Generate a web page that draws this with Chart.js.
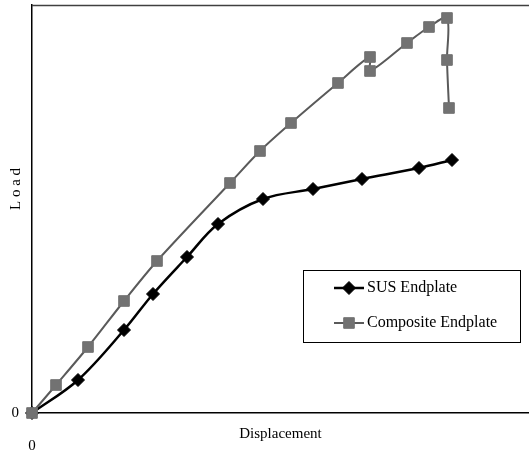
<!DOCTYPE html>
<html>
<head>
<meta charset="utf-8">
<script src="https://cdn.jsdelivr.net/npm/chart.js@4/dist/chart.umd.min.js"></script>
<style>
  html, body { margin: 0; padding: 0; background: #fff; }
  #wrap { width: 529px; height: 458px; position: relative; }
</style>
</head>
<body>
<div id="wrap"><canvas id="c"></canvas></div>
<script>
// ---- data (arbitrary units) ----
const susX = [0, 4.6, 9.2, 12.1, 15.5, 18.6, 23.1, 28.1, 33.0, 38.7, 42.0];
const susY = [0, 3.3, 8.3, 11.9, 15.6, 18.9, 21.4, 22.4, 23.4, 24.5, 25.3];
const compX = [0, 2.4, 5.6, 9.2, 12.5, 19.8, 22.8, 25.9, 30.6, 33.8, 33.8, 37.5, 39.7, 41.5, 41.5, 41.7];
const compY = [0, 2.8, 6.6, 11.2, 15.2, 23.0, 26.2, 29.0, 33.0, 35.6, 34.2, 37.0, 38.6, 39.5, 35.3, 30.5];
const seriesNames = ['SUS Endplate', 'Composite Endplate'];
const xTickLabels = ['0'];
const yTickLabels = ['0'];
const xTitle = 'Displacement';
const yTitle = 'L o a d';

const toPoints = (xs, ys) => xs.map((x, i) => ({ x: x, y: ys[i] }));

const FONT = "'Liberation Serif', 'Times New Roman', serif";

const frameAndLegend = {
  id: 'frameAndLegend',
  beforeDatasetsDraw(chart) {
    const { ctx, chartArea } = chart;
    ctx.save();
    ctx.strokeStyle = '#404040';
    ctx.lineWidth = 1.5;
    ctx.beginPath();
    ctx.moveTo(chartArea.left, chartArea.top + 0.5);
    ctx.lineTo(chartArea.right, chartArea.top + 0.5);
    ctx.stroke();
    // y-axis title (placed above centre, as in the original)
    ctx.translate(16, 189);
    ctx.rotate(-Math.PI / 2);
    ctx.fillStyle = '#000';
    ctx.font = '15px ' + FONT;
    ctx.textAlign = 'center';
    ctx.textBaseline = 'middle';
    ctx.fillText(yTitle, 0, 0);
    ctx.restore();
  },
  afterDraw(chart) {
    const { ctx } = chart;
    const bx = 303, by = 270, bw = 217, bh = 72;
    ctx.save();
    ctx.fillStyle = '#fff';
    ctx.fillRect(bx, by, bw, bh);
    ctx.strokeStyle = '#000';
    ctx.lineWidth = 1;
    ctx.strokeRect(bx + 0.5, by + 0.5, bw, bh);
    const rows = [288, 323];
    const order = [0, 1];
    order.forEach((di, r) => {
      const ds = chart.data.datasets[di];
      const y = rows[r];
      ctx.strokeStyle = ds.borderColor;
      ctx.lineWidth = ds.borderWidth;
      ctx.beginPath();
      ctx.moveTo(334, y);
      ctx.lineTo(364, y);
      ctx.stroke();
      ctx.fillStyle = ds.pointBackgroundColor;
      ctx.strokeStyle = ds.pointBorderColor;
      ctx.lineWidth = 1;
      Chart.helpers.drawPoint(ctx, { pointStyle: ds.pointStyle, radius: ds.pointRadius, borderWidth: 1, rotation: 0 }, 349, y);
      ctx.fillStyle = '#000';
      ctx.font = '16px ' + FONT;
      ctx.textBaseline = 'middle';
      ctx.textAlign = 'left';
      ctx.fillText(ds.label, 367, y);
    });
    ctx.restore();
  }
};

new Chart(document.getElementById('c'), {
  type: 'line',
  data: {
    datasets: [
      {
        label: seriesNames[0],
        data: toPoints(susX, susY),
        borderColor: '#000000',
        borderWidth: 2.5,
        pointStyle: 'rectRot',
        pointRadius: 6.5,
        pointBackgroundColor: '#000000',
        pointBorderColor: '#000000',
        pointBorderWidth: 1,
        tension: 0.35,
        clip: false,
        order: 1
      },
      {
        label: seriesNames[1],
        data: toPoints(compX, compY),
        borderColor: '#5a5a5a',
        borderWidth: 2,
        pointStyle: 'rect',
        pointRadius: 7.5,
        pointBackgroundColor: '#727272',
        pointBorderColor: '#727272',
        pointBorderWidth: 1,
        tension: 0.3,
        clip: false,
        order: 0
      }
    ]
  },
  options: {
    responsive: true,
    maintainAspectRatio: false,
    animation: false,
    devicePixelRatio: 1,
    layout: { autoPadding: false, padding: { top: 5, right: 0, bottom: 0, left: 0 } },
    plugins: {
      legend: { display: false },
      tooltip: { enabled: false }
    },
    scales: {
      x: {
        type: 'linear',
        min: 0,
        max: 49.7,
        grid: { display: false, drawTicks: false },
        border: { display: true, color: '#000', width: 1.5 },
        afterBuildTicks(scale) { scale.ticks = xTickLabels.map(t => ({ value: Number(t) })); },
        afterFit(scale) { scale.height = 45; scale.paddingLeft = 0; scale.paddingRight = 0; },
        ticks: {
          padding: 24,
          color: '#000',
          font: { family: FONT, size: 15 },
          maxRotation: 0,
          callback: (v, i) => xTickLabels[i]
        },
        title: {
          display: true,
          text: xTitle,
          color: '#000',
          font: { family: FONT, size: 15 },
          padding: { top: 0, bottom: 15 }
        }
      },
      y: {
        type: 'linear',
        min: 0,
        max: 40.8,
        grid: { display: false, drawTicks: false },
        border: { display: true, color: '#000', width: 1.5 },
        afterBuildTicks(scale) { scale.ticks = yTickLabels.map(t => ({ value: Number(t) })); },
        afterFit(scale) { scale.width = 32; scale.paddingTop = 0; scale.paddingBottom = 0; },
        ticks: {
          padding: 13,
          color: '#000',
          font: { family: FONT, size: 15 },
          callback: (v, i) => yTickLabels[i]
        },
        title: { display: false }
      }
    }
  },
  plugins: [frameAndLegend]
});
</script>
</body>
</html>
